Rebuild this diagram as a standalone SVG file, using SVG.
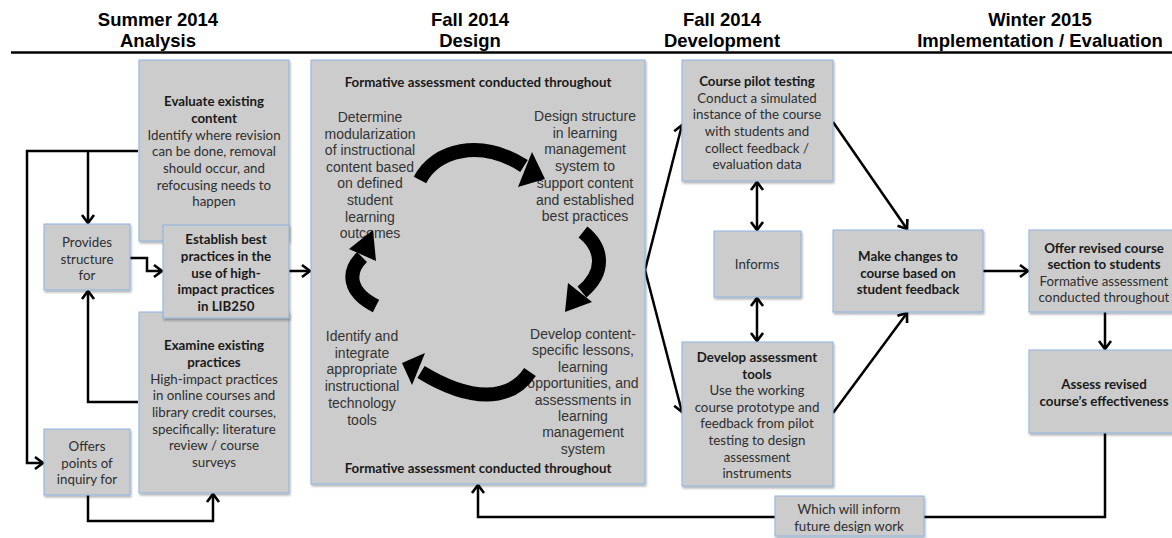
<svg xmlns="http://www.w3.org/2000/svg" width="1172" height="538" viewBox="0 0 1172 538">
<style>
.hd{font-family:"Liberation Sans",Arial,sans-serif;font-weight:bold;font-size:18.5px;fill:#000;text-anchor:middle}
.box{fill:#cccccc;stroke:#8db3e2;stroke-width:1;filter:url(#sh)}
.t{font-family:Lato,"Open Sans",sans-serif;font-size:13.3px;fill:#2e2e2e;text-anchor:middle}
.b{font-weight:bold;fill:#1a1a1a}
.a{font-family:"Liberation Sans",Arial,sans-serif;font-size:14px;fill:#333;text-anchor:middle}
.c{fill:none;stroke:#000;stroke-width:2.5;stroke-linejoin:miter}
.arr{marker-end:url(#ah)}
.dbl{marker-end:url(#ah);marker-start:url(#ah)}
.big{fill:none;stroke:#000;stroke-width:14}
</style>
<defs>
<filter id="sh" x="-10%" y="-10%" width="130%" height="130%">
<feDropShadow dx="1" dy="2" stdDeviation="1" flood-color="#000" flood-opacity="0.3"/>
</filter>
<marker id="ah" markerUnits="userSpaceOnUse" markerWidth="16" markerHeight="16" refX="11" refY="8" orient="auto-start-reverse" viewBox="0 0 16 16">
<path d="M3,2 L11,8 L3,14" fill="none" stroke="#000" stroke-width="2.6"/>
</marker>
</defs>
<rect width="1172" height="538" fill="#fff"/>

<g id="headers">
<text class="hd" x="158" y="26">Summer 2014</text>
<text class="hd" x="158" y="47">Analysis</text>
<text class="hd" x="470" y="26">Fall 2014</text>
<text class="hd" x="470" y="47">Design</text>
<text class="hd" x="722" y="26">Fall 2014</text>
<text class="hd" x="722" y="47">Development</text>
<text class="hd" x="1040" y="26">Winter 2015</text>
<text class="hd" x="1040" y="47">Implementation / Evaluation</text>
<path d="M11,52.5 H1172" stroke="#000" stroke-width="2.6"/>
</g>

<g id="connectors">
<path class="c arr" d="M138,151 H27 V463 H43"/>
<path class="c arr" d="M88,151 V223"/>
<path class="c arr" d="M138,402 H88 V291"/>
<path class="c arr" d="M130,258 H147 V271 H162"/>
<path class="c arr" d="M88,495 V521 H213 V494"/>
<path class="c arr" d="M289,271 H310"/>
<path class="c arr" d="M645,270 L682,125"/>
<path class="c arr" d="M645,270 L682,412"/>
<path class="c dbl" d="M757,182 V230"/>
<path class="c dbl" d="M757,298 V341"/>
<path class="c arr" d="M833,122 L907,229"/>
<path class="c arr" d="M833,413 L907,313"/>
<path class="c arr" d="M983,271 H1028"/>
<path class="c arr" d="M1105,312 V349"/>
<path class="c arr" d="M1105,433 V517 H478 V485"/>
</g>

<g id="evaluate">
<rect class="box" x="139" y="60" width="150" height="181"/>
<text class="t b" x="214" y="106">Evaluate existing</text>
<text class="t b" x="214" y="123">content</text>
<text class="t" x="214" y="140">Identify where revision</text>
<text class="t" x="214" y="156">can be done, removal</text>
<text class="t" x="214" y="173">should occur, and</text>
<text class="t" x="214" y="190">refocusing needs to</text>
<text class="t" x="214" y="206">happen</text>
</g>

<g id="examine">
<rect class="box" x="139" y="312" width="150" height="181"/>
<text class="t b" x="214" y="350">Examine existing</text>
<text class="t b" x="214" y="367">practices</text>
<text class="t" x="214" y="384">High-impact practices</text>
<text class="t" x="214" y="400">in online courses and</text>
<text class="t" x="214" y="417">library credit courses,</text>
<text class="t" x="214" y="434">specifically: literature</text>
<text class="t" x="214" y="450">review / course</text>
<text class="t" x="214" y="467">surveys</text>
</g>

<g id="establish">
<rect class="box" x="163" y="225" width="126" height="93"/>
<text class="t b" x="226" y="244">Establish best</text>
<text class="t b" x="226" y="261">practices in the</text>
<text class="t b" x="226" y="278">use of high-</text>
<text class="t b" x="226" y="294">impact practices</text>
<text class="t b" x="226" y="311">in LIB250</text>
</g>

<g id="provides">
<rect class="box" x="44" y="224" width="86" height="66"/>
<text class="t" x="87" y="247">Provides</text>
<text class="t" x="87" y="264">structure</text>
<text class="t" x="87" y="280">for</text>
</g>

<g id="offers">
<rect class="box" x="44" y="429" width="86" height="66"/>
<text class="t" x="87" y="451">Offers</text>
<text class="t" x="87" y="468">points of</text>
<text class="t" x="87" y="484">inquiry for</text>
</g>

<g id="design">
<rect class="box" x="311" y="60" width="334" height="424"/>
<text class="t b" x="478" y="87">Formative assessment conducted throughout</text>
<text class="t b" x="478" y="473">Formative assessment conducted throughout</text>
<text class="a" x="370"><tspan x="370" y="122">Determine</tspan><tspan x="370" y="138.6">modularization</tspan><tspan x="370" y="155.2">of instructional</tspan><tspan x="370" y="171.8">content based</tspan><tspan x="370" y="188.4">on defined</tspan><tspan x="370" y="205">student</tspan><tspan x="370" y="221.6">learning</tspan><tspan x="370" y="238.2">outcomes</tspan></text>
<text class="a" x="585"><tspan x="585" y="121">Design structure</tspan><tspan x="585" y="137.7">in learning</tspan><tspan x="585" y="154.4">management</tspan><tspan x="585" y="171.1">system to</tspan><tspan x="585" y="187.8">support content</tspan><tspan x="585" y="204.5">and established</tspan><tspan x="585" y="221.2">best practices</tspan></text>
<text class="a" x="362"><tspan x="362" y="341">Identify and</tspan><tspan x="362" y="357.7">integrate</tspan><tspan x="362" y="374.4">appropriate</tspan><tspan x="362" y="391.1">instructional</tspan><tspan x="362" y="407.8">technology</tspan><tspan x="362" y="424.5">tools</tspan></text>
<text class="a" x="583"><tspan x="583" y="339">Develop content-</tspan><tspan x="583" y="355.4">specific lessons,</tspan><tspan x="583" y="371.8">learning</tspan><tspan x="583" y="388.2">opportunities, and</tspan><tspan x="583" y="404.6">assessments in</tspan><tspan x="583" y="421">learning</tspan><tspan x="583" y="437.4">management</tspan><tspan x="583" y="453.8">system</tspan></text>
<g id="cycle">
<path class="big" d="M420,180 C435,150 480,138 524,166"/>
<polygon points="532,152 518,187 545,179"/>
<path class="big" d="M583,232 C603,248 606,272 582,292"/>
<polygon points="568,283 592,302 565,312"/>
<path class="big" d="M530,372 C510,402 470,402 421,372"/>
<polygon points="425,353 412,385 402,363"/>
<path class="big" d="M376,306 C348,292 347,272 362,257"/>
<polygon points="349,249 376,261 373,230"/>
</g>
</g>

<g id="pilot">
<rect class="box" x="682" y="60" width="151" height="121"/>
<text class="t b" x="757" y="86">Course pilot testing</text>
<text class="t" x="757" y="103">Conduct a simulated</text>
<text class="t" x="757" y="119">instance of the course</text>
<text class="t" x="757" y="136">with students and</text>
<text class="t" x="757" y="153">collect feedback /</text>
<text class="t" x="757" y="169">evaluation data</text>
</g>

<g id="informs">
<rect class="box" x="714" y="231" width="87" height="66"/>
<text class="t" x="757" y="269">Informs</text>
</g>

<g id="develop">
<rect class="box" x="682" y="342" width="151" height="144"/>
<text class="t b" x="757" y="362">Develop assessment</text>
<text class="t b" x="757" y="379">tools</text>
<text class="t" x="757" y="395">Use the working</text>
<text class="t" x="757" y="412">course prototype and</text>
<text class="t" x="757" y="428">feedback from pilot</text>
<text class="t" x="757" y="445">testing to design</text>
<text class="t" x="757" y="462">assessment</text>
<text class="t" x="757" y="478">instruments</text>
</g>

<g id="makechanges">
<rect class="box" x="833" y="230" width="150" height="82"/>
<text class="t b" x="908" y="261">Make changes to</text>
<text class="t b" x="908" y="278">course based on</text>
<text class="t b" x="908" y="294">student feedback</text>
</g>

<g id="whichwill">
<rect class="box" x="775" y="496" width="149" height="40"/>
<text class="t" x="849" y="514">Which will inform</text>
<text class="t" x="849" y="531">future design work</text>
</g>

<g id="offer">
<rect class="box" x="1029" y="230" width="152" height="82"/>
<text class="t b" x="1104" y="253">Offer revised course</text>
<text class="t b" x="1104" y="269">section to students</text>
<text class="t" x="1104" y="286">Formative assessment</text>
<text class="t" x="1104" y="302">conducted throughout</text>
</g>

<g id="assess">
<rect class="box" x="1029" y="350" width="152" height="83"/>
<text class="t b" x="1104" y="389">Assess revised</text>
<text class="t b" x="1104" y="406">course’s effectiveness</text>
</g>
</svg>
